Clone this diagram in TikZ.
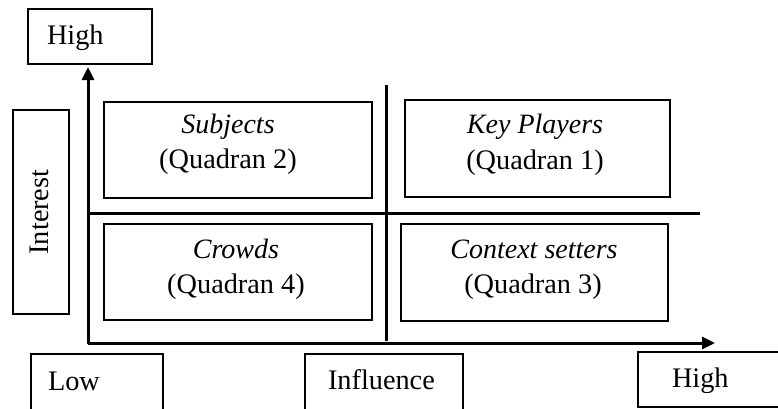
\documentclass[tikz,border=0pt]{standalone}
\usepackage{fontspec}
\setmainfont{Liberation Serif}
\usetikzlibrary{arrows.meta}
\begin{document}
\begin{tikzpicture}[x=1pt,y=-1pt,
  box/.style={draw, line width=1.3pt, inner sep=0pt, outer sep=0pt},
  axisline/.style={line width=3pt},
  lbl/.style={font=\fontsize{28.3}{33}\selectfont, inner sep=0pt, outer sep=0pt, anchor=base},
  lblw/.style={lbl, anchor=base west},
  ital/.style={lbl, font=\fontsize{28}{33}\selectfont\itshape},
]
\useasboundingbox (0,0) rectangle (778,408);
\clip (0,0) rectangle (778,408);

% label boxes
\node[box, minimum width=124pt, minimum height=55pt] (hightop) at (90,36.5) {};
\node[box, minimum width=56pt, minimum height=204pt] (interestbox) at (41,212) {};
\node[box, minimum width=132pt, minimum height=66pt] (lowbox) at (97,387) {};
\node[box, minimum width=158pt, minimum height=66pt] (influencebox) at (384,387) {};
\node[box, minimum width=152pt, minimum height=55pt] (highright) at (714,379.5) {};

\node[lblw] (thigh) at (47,44) {High};
\node[lbl, rotate=90] (tinterest) at (48,212) {Interest};
\node[lblw] (tlow) at (48,390) {Low};
\node[lblw] (tinfluence) at (328,389) {Influence};
\node[lblw] (thighr) at (672,387) {High};

% quadrant boxes
\node[box, minimum width=268pt, minimum height=96pt] (q2) at (238,150) {};
\node[box, minimum width=265pt, minimum height=97pt] (q1) at (537.5,148.5) {};
\node[box, minimum width=268pt, minimum height=96pt] (q4) at (238,272) {};
\node[box, minimum width=267pt, minimum height=97pt] (q3) at (534.5,272.5) {};

\node[ital] (q2a) at (228,133) {Subjects};
\node[lbl]  (q2b) at (228,168) {(Quadran 2)};
\node[ital] (q1a) at (535,133) {Key Players};
\node[lbl]  (q1b) at (535,169) {(Quadran 1)};
\node[ital] (q4a) at (236,258) {Crowds};
\node[lbl]  (q4b) at (236,293) {(Quadran 4)};
\node[ital] (q3a) at (534,258) {Context setters};
\node[lbl]  (q3b) at (533,293) {(Quadran 3)};

% axes
\coordinate (ytip) at (88,67);
\coordinate (origin) at (88,343);
\coordinate (xtip) at (715,343);
\draw[axisline, line join=round, {Triangle[length=13pt,width=12pt]}-{Triangle[length=13pt,width=12pt]}] (ytip) -- (origin) -- (xtip);

% dividers
\coordinate (vtop) at (386,85);
\coordinate (vbot) at (386,341);
\coordinate (hleft) at (88,213);
\coordinate (hright) at (700,213);
\draw[axisline] (vtop) -- (vbot);
\draw[axisline] (hleft) -- (hright);
\end{tikzpicture}
\end{document}
